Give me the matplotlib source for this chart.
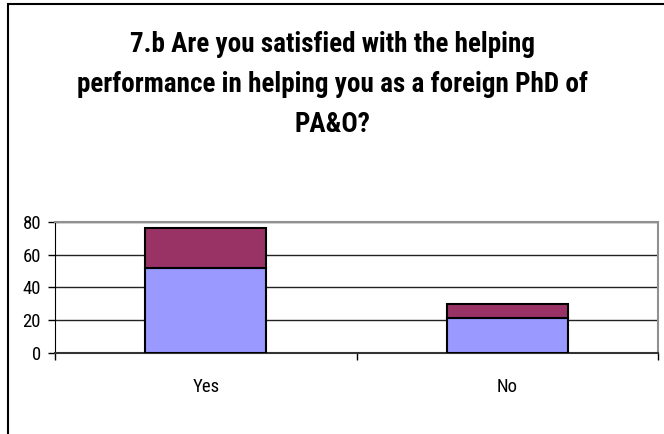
import matplotlib.pyplot as plt
from matplotlib.patches import Rectangle

categories = ["Yes", "No"]
lower_values = [52, 21]
upper_values = [24, 9]
y_ticks = [0, 20, 40, 60, 80]
title_lines = ["7.b Are you satisfied with the helping",
               "performance in helping you as a foreign PhD of",
               "PA&O?"]

plt.rcParams["font.family"] = ["Roboto Condensed", "PT Sans Narrow", "Liberation Sans", "DejaVu Sans"]

W, H = 664, 434
fig = plt.figure(figsize=(W / 100, H / 100), dpi=100)
fig.patches.append(Rectangle((8 / W, -0.1), 1.2, (H - 4) / H + 0.1,
                             transform=fig.transFigure, fill=False,
                             edgecolor="black", linewidth=1.5))
# title, one line per text so the spacing can follow the reference
for i, line in enumerate(title_lines):
    fig.text(0.5, 1 - (45 + 40 * i) / H, line, ha="center", va="center",
             fontsize=19.5, fontweight="bold")

ax = fig.add_axes([55 / W, (H - 352.7) / H, (658 - 55) / W, (352.7 - 221.9) / H])
x = list(range(len(categories)))
ax.bar(x, lower_values, width=0.4, color="#9999FF", edgecolor="black", linewidth=1.5, zorder=3)
ax.bar(x, upper_values, width=0.4, bottom=lower_values, color="#993366",
       edgecolor="black", linewidth=1.5, zorder=3)

ax.set_xlim(-0.5, len(categories) - 0.5)
ax.set_ylim(0, 80)
ax.set_yticks(y_ticks)
ax.set_xticks([i - 0.5 for i in range(len(categories) + 1)])
ax.set_xticklabels([])
ax.set_xticks(x, minor=True)
ax.set_xticklabels(categories, minor=True, fontsize=13.5)
ax.tick_params(axis="x", which="minor", length=0, pad=18)
ax.tick_params(axis="x", which="major", length=5, width=1, color="black")
ax.tick_params(axis="y", length=5, width=1, labelsize=13.5, pad=5)
ax.yaxis.grid(True, color="#222222", linewidth=1, zorder=0)
ax.set_axisbelow(True)
for side in ["top", "right"]:
    ax.spines[side].set_color("#909090")
    ax.spines[side].set_linewidth(1.5)
ax.spines["left"].set_color("black")
ax.spines["bottom"].set_color("#333333")
ax.spines["bottom"].set_linewidth(1.5)

fig.savefig("out.png", dpi=100)
